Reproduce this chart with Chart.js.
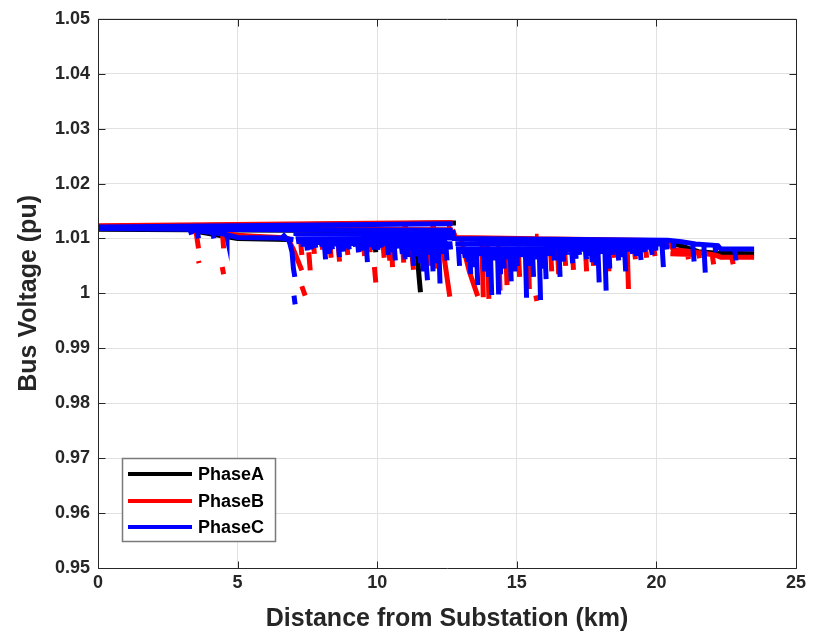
<!DOCTYPE html>
<html><head><meta charset="utf-8">
<script src="https://cdn.jsdelivr.net/npm/chart.js@4.4.1/dist/chart.umd.min.js"></script>
<style>html,body{margin:0;padding:0;background:#fff;}#wrap{width:823px;height:632px;}</style>
</head><body><div id="wrap"><canvas id="c" width="823" height="632"></canvas></div>
<script>
const seriesNames = ['PhaseA', 'PhaseB', 'PhaseC'];
const seriesColors = ['#000000', '#ff0000', '#0000ff'];
const xTicks = [0, 5, 10, 15, 20, 25];
const yTicks = [0.95, 0.96, 0.97, 0.98, 0.99, 1.00, 1.01, 1.02, 1.03, 1.04, 1.05];
const xTitle = 'Distance from Substation (km)';
const yTitle = 'Bus Voltage (pu)';

// Phase A (black): polylines as flat x,y lists, drops as x1,y1,x2,y2(,x3,y3)
const phaseA_lines = [
  [0, 1.0122, 12.82, 1.0128],
  [0, 1.0117, 3.3, 1.0116, 7.0, 1.0115, 12.7, 1.0114],
  [3.3, 1.0115, 5.0, 1.0100, 6.8, 1.0098],
  [12.7, 1.0114, 12.8, 1.0100, 20.4, 1.0095, 20.8, 1.0088, 21.5, 1.0076, 22.2, 1.0073, 23.5, 1.0072],
  [15.7, 1.0091, 17.6, 1.0091]
];
const phaseA_drops = [
  [9.9, 1.0095, 9.95, 1.0075],
  [11.4, 1.0095, 11.5, 1.0030, 11.55, 1.0002],
  [16.2, 1.0088, 16.25, 1.0070],
  [18.2, 1.0088, 18.25, 1.0060]
];

// Phase B (red)
const phaseB_lines = [
  [0, 1.0123, 12.7, 1.0129],
  [0, 1.0119, 3.3, 1.0118, 7.0, 1.0117, 12.7, 1.0116],
  [3.5, 1.0116, 5.0, 1.0106, 5.6, 1.0104, 6.5, 1.0102, 6.8, 1.0100, 7.0, 1.0080, 7.3, 1.0042],
  [7.3, 1.0013, 7.42, 0.9996],
  [12.7, 1.0116, 12.8, 1.0102, 20.4, 1.0096, 20.6, 1.0080, 21.4, 1.0075, 22.1, 1.0070, 22.3, 1.0066, 23.5, 1.0066],
  [20.5, 1.0072, 21.3, 1.0071],
  [7.5, 1.0120, 7.8, 1.0119],
  [8.7, 1.0120, 8.9, 1.0120],
  [9.6, 1.0120, 9.75, 1.0119],
  [10.9, 1.0120, 11.1, 1.0119],
  [11.9, 1.0121, 12.1, 1.0120],
  [12.5, 1.0122, 12.65, 1.0121],
  [15.65, 1.0104, 15.78, 1.0104]
];
const phaseB_drops = [
  [3.5, 1.0116, 3.6, 1.0082], [3.6, 1.0059, 3.62, 1.0055], [4.45, 1.0114, 4.5, 1.0082],
  [4.45, 1.0048, 4.5, 1.0035], [7.55, 1.0075, 7.6, 1.0042], [8.0, 1.0095, 8.05, 1.0080],
  [8.9, 1.0095, 8.95, 1.0070], [9.3, 1.0095, 9.35, 1.0075], [9.9, 1.0048, 9.95, 1.0020],
  [10.2, 1.0095, 10.25, 1.0065], [10.5, 1.0095, 10.55, 1.0048], [11.2, 1.0095, 11.3, 1.0043],
  [11.8, 1.0095, 11.85, 1.0050], [12.3, 1.0100, 12.55, 1.0012, 12.6, 0.9994],
  [13.0, 1.0100, 13.3, 1.0040, 13.6, 0.9995], [13.75, 1.0090, 13.8, 0.9993],
  [13.95, 1.0090, 14.0, 0.9990], [14.35, 1.0090, 14.4, 1.0005], [15.68, 0.9996, 15.72, 0.9986],
  [16.2, 1.0088, 16.25, 1.0040], [16.98, 1.0088, 17.03, 1.0043], [17.45, 1.0088, 17.5, 1.0040],
  [18.95, 1.0088, 19.0, 1.0008], [19.6, 1.0088, 19.65, 1.0065], [22.0, 1.0070, 22.05, 1.0053],
  [22.7, 1.0066, 22.75, 1.0053],
  [7.25, 1.0100, 7.3, 1.0070], [7.7, 1.0100, 7.75, 1.0072], [8.3, 1.0095, 8.35, 1.0065],
  [8.6, 1.0095, 8.65, 1.0058], [9.5, 1.0095, 9.55, 1.0068], [9.7, 1.0095, 9.75, 1.0075],
  [10.4, 1.0095, 10.45, 1.0060], [10.9, 1.0095, 10.95, 1.0056], [11.6, 1.0095, 11.65, 1.0052],
  [12.05, 1.0095, 12.1, 1.0045], [14.6, 1.0085, 14.65, 1.0015], [15.05, 1.0085, 15.1, 1.0030],
  [15.4, 1.0085, 15.45, 1.0008], [16.45, 1.0085, 16.5, 1.0035], [16.7, 1.0085, 16.75, 1.0050],
  [17.7, 1.0085, 17.75, 1.0050], [18.25, 1.0085, 18.3, 1.0040], [18.45, 1.0085, 18.5, 1.0065],
  [19.2, 1.0085, 19.25, 1.0062], [19.9, 1.0085, 19.95, 1.0068], [20.75, 1.0080, 20.8, 1.0068],
  [21.1, 1.0075, 21.15, 1.0062], [21.5, 1.0074, 21.55, 1.0064]
];

// Phase C (blue)
const phaseC_lines = [
  [0, 1.0121, 12.7, 1.0127],
  [0, 1.0118, 3.3, 1.0117, 7.0, 1.0116, 12.7, 1.0115],
  [3.3, 1.0116, 4.5, 1.0108, 5.0, 1.0102, 6.5, 1.0101, 7.0, 1.0098],
  [7.0, 1.0109, 12.7, 1.0108],
  [7.2, 1.0102, 12.7, 1.0101],
  [7.6, 1.0095, 12.5, 1.0094],
  [12.7, 1.0115, 12.75, 1.0100, 20.4, 1.0097, 20.9, 1.0094, 21.4, 1.0090, 22.2, 1.0087, 22.3, 1.0081, 23.5, 1.0081],
  [12.8, 1.0091, 20.3, 1.0090],
  [13.0, 1.0085, 19.8, 1.0084],
  [6.6, 1.0108, 6.85, 1.0095, 6.95, 1.0075, 7.0, 1.0045, 7.05, 1.0030],
  [7.02, 0.9996, 7.06, 0.9980]
];
const phaseC_drops = [
  [3.3, 1.0116, 3.35, 1.0107], [3.55, 1.0116, 3.6, 1.0100], [3.9, 1.0115, 3.92, 1.0108],
  [4.1, 1.0114, 4.15, 1.0100], [4.6, 1.0108, 4.62, 1.0103], [5.3, 1.0102, 5.32, 1.0098],
  [5.9, 1.0101, 5.92, 1.0097],
  [7.3, 1.0100, 7.35, 1.0085], [7.6, 1.0100, 7.65, 1.0080], [7.85, 1.0100, 7.9, 1.0088],
  [8.1, 1.0095, 8.15, 1.0062], [8.35, 1.0095, 8.4, 1.0080], [8.6, 1.0095, 8.65, 1.0066],
  [8.85, 1.0095, 8.9, 1.0082], [9.05, 1.0095, 9.1, 1.0086], [9.3, 1.0095, 9.33, 1.0075],
  [9.6, 1.0095, 9.65, 1.0057], [9.85, 1.0095, 9.9, 1.0080], [10.1, 1.0095, 10.15, 1.0083],
  [10.35, 1.0095, 10.4, 1.0070], [10.6, 1.0095, 10.65, 1.0060], [10.85, 1.0095, 10.9, 1.0072],
  [11.05, 1.0095, 11.1, 1.0066], [11.25, 1.0095, 11.3, 1.0050], [11.5, 1.0095, 11.55, 1.0055],
  [11.7, 1.0095, 11.8, 1.0024], [11.95, 1.0095, 12.0, 1.0040], [12.2, 1.0095, 12.25, 1.0018],
  [12.45, 1.0095, 12.5, 1.0060],
  [7.15, 1.0108, 7.2, 1.0090], [7.45, 1.0100, 7.5, 1.0078], [7.75, 1.0100, 7.8, 1.0083],
  [8.0, 1.0095, 8.03, 1.0085], [8.25, 1.0095, 8.3, 1.0072], [8.5, 1.0095, 8.52, 1.0086],
  [8.75, 1.0095, 8.8, 1.0076], [8.95, 1.0095, 9.0, 1.0080], [9.2, 1.0095, 9.22, 1.0085],
  [9.45, 1.0095, 9.5, 1.0078], [9.75, 1.0095, 9.78, 1.0084], [10.0, 1.0095, 10.03, 1.0079],
  [10.25, 1.0095, 10.28, 1.0086], [10.5, 1.0095, 10.52, 1.0075], [10.75, 1.0095, 10.78, 1.0082],
  [10.95, 1.0095, 11.0, 1.0062], [11.15, 1.0095, 11.18, 1.0078], [11.4, 1.0095, 11.43, 1.0068],
  [11.6, 1.0095, 11.65, 1.0040], [11.85, 1.0095, 11.88, 1.0070], [12.1, 1.0095, 12.15, 1.0055],
  [12.35, 1.0095, 12.38, 1.0072], [12.6, 1.0095, 12.63, 1.0080],
  [12.9, 1.0090, 12.95, 1.0050], [13.1, 1.0090, 13.15, 1.0065], [13.3, 1.0090, 13.35, 1.0035],
  [13.55, 1.0090, 13.6, 1.0015], [13.8, 1.0090, 13.85, 1.0040], [14.05, 1.0090, 14.1, 0.9997],
  [14.3, 1.0090, 14.35, 0.9998], [14.5, 1.0090, 14.55, 1.0045], [14.75, 1.0090, 14.8, 1.0022],
  [15.0, 1.0090, 15.02, 1.0050], [15.3, 1.0090, 15.35, 0.9992], [15.55, 1.0090, 15.6, 1.0030],
  [15.8, 1.0090, 15.85, 0.9988], [16.0, 1.0090, 16.05, 1.0026], [16.3, 1.0088, 16.35, 1.0060],
  [16.5, 1.0088, 16.55, 1.0030], [16.75, 1.0088, 16.8, 1.0070], [16.95, 1.0088, 17.0, 1.0055],
  [17.2, 1.0088, 17.25, 1.0070], [17.45, 1.0088, 17.5, 1.0062], [17.65, 1.0088, 17.7, 1.0057],
  [17.9, 1.0088, 17.95, 1.0020], [18.15, 1.0088, 18.2, 1.0005], [18.4, 1.0088, 18.45, 1.0070],
  [18.6, 1.0088, 18.65, 1.0060], [18.85, 1.0088, 18.9, 1.0040], [19.1, 1.0088, 19.15, 1.0072],
  [19.4, 1.0088, 19.45, 1.0061], [19.8, 1.0088, 19.85, 1.0070], [20.2, 1.0090, 20.25, 1.0048],
  [20.6, 1.0092, 20.62, 1.0082], [21.3, 1.0090, 21.35, 1.0058], [21.7, 1.0088, 21.75, 1.0038],
  [22.1, 1.0087, 22.12, 1.0075], [22.8, 1.0081, 22.85, 1.0060],
  [13.0, 1.0085, 13.02, 1.0072], [13.2, 1.0085, 13.25, 1.0058], [13.45, 1.0085, 13.5, 1.0048],
  [13.7, 1.0085, 13.72, 1.0068], [13.95, 1.0085, 13.98, 1.0030], [14.2, 1.0085, 14.22, 1.0060],
  [14.4, 1.0085, 14.42, 1.0035], [14.65, 1.0085, 14.68, 1.0062], [14.9, 1.0085, 14.93, 1.0040],
  [15.15, 1.0085, 15.18, 1.0066], [15.45, 1.0085, 15.48, 1.0050], [15.7, 1.0085, 15.72, 1.0062],
  [15.9, 1.0085, 15.93, 1.0045], [16.15, 1.0085, 16.18, 1.0068], [16.4, 1.0085, 16.43, 1.0075],
  [16.65, 1.0085, 16.68, 1.0058], [16.85, 1.0085, 16.88, 1.0074], [17.1, 1.0085, 17.12, 1.0063],
  [17.35, 1.0085, 17.38, 1.0076], [17.55, 1.0085, 17.58, 1.0068], [17.8, 1.0085, 17.83, 1.0052],
  [18.05, 1.0085, 18.08, 1.0072], [18.3, 1.0085, 18.33, 1.0045], [18.5, 1.0085, 18.53, 1.0074],
  [18.75, 1.0085, 18.78, 1.0066], [19.0, 1.0085, 19.03, 1.0076], [19.25, 1.0085, 19.28, 1.0068],
  [19.55, 1.0085, 19.58, 1.0075], [19.95, 1.0088, 19.98, 1.0078], [20.35, 1.0092, 20.38, 1.0080]
];

function buildPath(lines, drops) {
  const pts = [];
  for (const l of lines.concat(drops)) {
    for (let i = 0; i < l.length; i += 2) pts.push({x: l[i], y: l[i + 1]});
    pts.push({x: l[l.length - 2], y: null});
  }
  return pts;
}
const allData = [
  buildPath(phaseA_lines, phaseA_drops),
  buildPath(phaseB_lines, phaseB_drops),
  buildPath(phaseC_lines, phaseC_drops)
];

const FONT = '"Liberation Sans", Arial, Helvetica, sans-serif';
const INK = '#262626';

const frame = {
  id: 'frame',
  afterDraw(chart) {
    const {ctx, chartArea: a, scales} = chart;
    ctx.save();
    ctx.strokeStyle = INK;
    ctx.lineWidth = 1;
    const L = Math.round(a.left) + 0.5, R = Math.round(a.right) + 0.5;
    const T = Math.round(a.top) + 0.5, B = Math.round(a.bottom) + 0.5;
    ctx.beginPath();
    ctx.rect(L, T, R - L, B - T);
    const tl = 7;
    for (const v of xTicks) {
      const px = Math.round(scales.x.getPixelForValue(v)) + 0.5;
      ctx.moveTo(px, B); ctx.lineTo(px, B - tl);
      ctx.moveTo(px, T); ctx.lineTo(px, T + tl);
    }
    for (const v of yTicks) {
      const py = Math.round(scales.y.getPixelForValue(v)) + 0.5;
      ctx.moveTo(L, py); ctx.lineTo(L + tl, py);
      ctx.moveTo(R, py); ctx.lineTo(R - tl, py);
    }
    ctx.stroke();
    // legend
    const bx = 122.5, by = 458.5, bw = 153, bh = 83;
    ctx.fillStyle = '#ffffff';
    ctx.fillRect(bx, by, bw, bh);
    ctx.strokeStyle = '#7a7a7a';
    ctx.lineWidth = 1.5;
    ctx.strokeRect(bx, by, bw, bh);
    const rows = [474, 501, 527];
    ctx.font = 'bold 18px ' + FONT;
    ctx.textBaseline = 'middle';
    ctx.textAlign = 'left';
    seriesNames.forEach((n, i) => {
      ctx.strokeStyle = seriesColors[i];
      ctx.lineWidth = 4;
      ctx.beginPath();
      ctx.moveTo(128, rows[i]); ctx.lineTo(192, rows[i]);
      ctx.stroke();
      ctx.fillStyle = '#000000';
      ctx.fillText(n, 198, rows[i] + 1);
    });
    ctx.restore();
  }
};

new Chart(document.getElementById('c'), {
  type: 'scatter',
  data: {
    datasets: seriesNames.map((n, i) => ({
      label: n,
      data: allData[i],
      showLine: true,
      spanGaps: false,
      borderColor: seriesColors[i],
      backgroundColor: seriesColors[i],
      borderWidth: 5,
      borderCapStyle: 'butt',
      borderJoinStyle: 'miter',
      pointRadius: 0,
      pointHoverRadius: 0,
      order: 3 - i
    }))
  },
  options: {
    responsive: false,
    animation: false,
    devicePixelRatio: 1,
    layout: {padding: {top: 15, right: 27, left: 0, bottom: 0}},
    plugins: {legend: {display: false}, tooltip: {enabled: false}, title: {display: false}},
    scales: {
      x: {
        type: 'linear', min: 0, max: 25,
        afterBuildTicks: s => { s.ticks = xTicks.map(v => ({value: v})); },
        afterFit: s => { s.height = 64; },
        ticks: {color: INK, font: {family: FONT, size: 18, weight: 'bold'}, padding: 4, maxRotation: 0, callback: v => String(v)},
        grid: {color: '#e1e1e1', drawTicks: false, lineWidth: 1},
        border: {display: false},
        title: {display: true, text: xTitle, color: INK, font: {family: FONT, size: 25, weight: 'bold', lineHeight: 1.0}, padding: {top: 0, bottom: 0}}
      },
      y: {
        type: 'linear', min: 0.95, max: 1.05,
        afterBuildTicks: s => { s.ticks = yTicks.map(v => ({value: v})); },
        afterFit: s => { s.width = 98; },
        ticks: {color: INK, font: {family: FONT, size: 18, weight: 'bold'}, padding: 8, callback: v => String(Number(v.toFixed(2)))},
        grid: {color: '#e1e1e1', drawTicks: false, lineWidth: 1},
        border: {display: false},
        title: {display: true, text: yTitle, color: INK, font: {family: FONT, size: 25, weight: 'bold', lineHeight: 1.0}, padding: {top: 17, bottom: 0}}
      }
    }
  },
  plugins: [frame]
});
</script>
</body></html>
